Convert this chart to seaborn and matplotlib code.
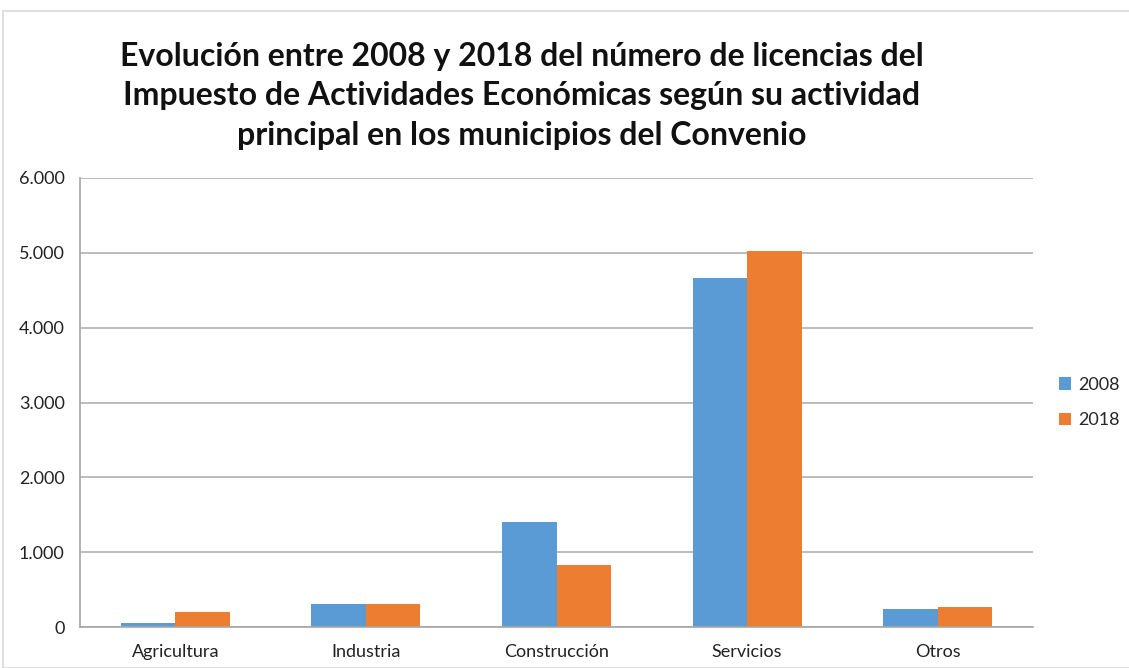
import numpy as np
import pandas as pd
import seaborn as sns
import matplotlib.pyplot as plt
from matplotlib.patches import Rectangle
from matplotlib.ticker import FuncFormatter, FixedLocator

# datos
categorias = ["Agricultura", "Industria", "Construcción", "Servicios", "Otros"]
valores_2008 = [60, 314, 1398, 4666, 238]
valores_2018 = [197, 301, 827, 5027, 270]
anios = ["2008", "2018"]
colores = ["#5B9BD5", "#ED7D31"]

df = pd.DataFrame({
    "categoria": categorias * 2,
    "anio": [anios[0]] * len(categorias) + [anios[1]] * len(categorias),
    "licencias": valores_2008 + valores_2018,
})

sns.set_style("white")
plt.rcParams["font.family"] = ["Lato", "DejaVu Sans"]

fig = plt.figure(figsize=(11.29, 6.68), dpi=100)
ax = fig.add_axes([80 / 1129, 1 - 627 / 668, (1033 - 80) / 1129, (627 - 178) / 668])

sns.barplot(data=df, x="categoria", y="licencias", hue="anio", palette=colores,
            width=0.572, gap=0, saturation=1, ax=ax, legend=True,
            linewidth=0, edgecolor="none")

ax.set_ylim(0, 6000)
ax.set_xlim(-0.5, 4.5)
ax.set_yticks(range(0, 6001, 1000))
ax.yaxis.set_major_formatter(FuncFormatter(lambda v, p: f"{int(v):,}".replace(",", ".")))
ax.grid(axis="y", color="#B0B0B0", linewidth=1.2)
ax.set_axisbelow(True)
ax.set_xlabel("")
ax.set_ylabel("")

for s in ["top", "right"]:
    ax.spines[s].set_visible(False)
for s in ["left", "bottom"]:
    ax.spines[s].set_color("#A6A6A6")
    ax.spines[s].set_linewidth(1.2)

ax.tick_params(axis="y", length=6, color="#A6A6A6", labelsize=13, labelcolor="#222222", pad=5)
ax.tick_params(axis="x", which="major", length=0, labelsize=13, labelcolor="#222222", pad=12)
ax.xaxis.set_minor_locator(FixedLocator(np.arange(-0.5, 5, 1)))
ax.tick_params(axis="x", which="minor", length=6, color="#A6A6A6", width=1.2)

leg = ax.legend(loc="center left", bbox_to_anchor=(1.01, 0.5), frameon=False,
                fontsize=13, handlelength=0.7, handleheight=0.7, handletextpad=0.4,
                labelspacing=1.1)

fig.text(522 / 1129, 1 - 96 / 668,
         "Evolución entre 2008 y 2018 del número de licencias del\n"
         "Impuesto de Actividades Económicas según su actividad\n"
         "principal en los municipios del Convenio",
         ha="center", va="center", fontsize=23, fontweight="bold",
         linespacing=1.45, color="#111111")

# borde del area del grafico
fig.patches.append(Rectangle((3 / 1129, 0), 1.2, 1 - 11 / 668, transform=fig.transFigure,
                             fill=False, edgecolor="#D9D9D9", linewidth=1.2))

fig.savefig("out.png", dpi=100)
